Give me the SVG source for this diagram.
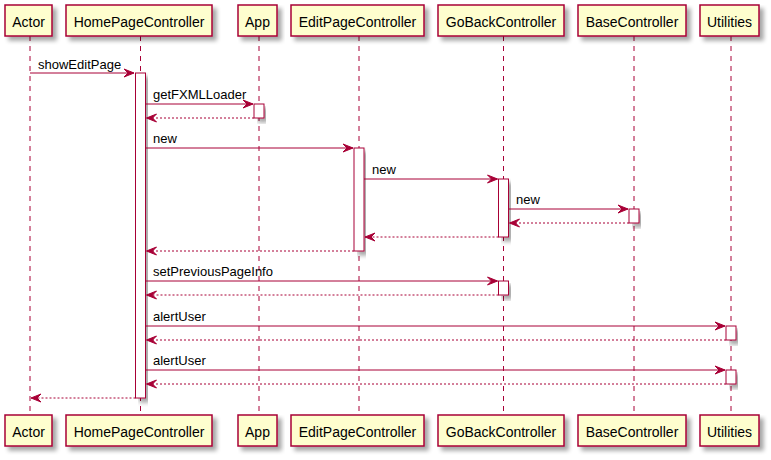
<svg xmlns="http://www.w3.org/2000/svg" width="771" height="460" viewBox="0 0 771 460">
<style>
.box{fill:#FEFECE;stroke:#A80036;stroke-width:1.5;filter:url(#sh)}
.act{fill:#FFFFFF;stroke:#A80036;stroke-width:1;filter:url(#sh)}
.life{stroke:#A80036;stroke-width:1;stroke-dasharray:5,5;fill:none}
.msg{stroke:#A80036;stroke-width:1;fill:none}
.ret{stroke:#A80036;stroke-width:1;stroke-dasharray:2,2;fill:none}
.head{fill:#A80036;stroke:#A80036;stroke-width:1}
.pt{font-family:"Liberation Sans",Arial,sans-serif;font-size:14px;fill:#000;text-anchor:middle}
.mt{font-family:"Liberation Sans",Arial,sans-serif;font-size:13px;fill:#000}
</style>
<defs>
<filter id="sh" x="-10%" y="-10%" width="130%" height="150%">
<feGaussianBlur in="SourceAlpha" stdDeviation="2" result="b"/>
<feOffset in="b" dx="4" dy="4" result="o"/>
<feComponentTransfer in="o" result="s"><feFuncA type="linear" slope="0.35"/></feComponentTransfer>
<feMerge><feMergeNode in="s"/><feMergeNode in="SourceGraphic"/></feMerge>
</filter>
</defs>
<rect width="771" height="460" fill="#FFFFFF"/>
<g id="lifelines">
<line class="life" x1="30" y1="36" x2="30" y2="415"/>
<line class="life" x1="140.5" y1="36" x2="140.5" y2="415"/>
<line class="life" x1="259" y1="36" x2="259" y2="415"/>
<line class="life" x1="359" y1="36" x2="359" y2="415"/>
<line class="life" x1="503.5" y1="36" x2="503.5" y2="415"/>
<line class="life" x1="634" y1="36" x2="634" y2="415"/>
<line class="life" x1="731" y1="36" x2="731" y2="415"/>
</g>
<g id="activations">
<rect class="act" x="135.5" y="73" width="10" height="325"/>
<rect class="act" x="254" y="104" width="10" height="14"/>
<rect class="act" x="354" y="148" width="10" height="103"/>
<rect class="act" x="498.5" y="179" width="10" height="58"/>
<rect class="act" x="629" y="209" width="10" height="14"/>
<rect class="act" x="498.5" y="281" width="10" height="14"/>
<rect class="act" x="726" y="326" width="10" height="14"/>
<rect class="act" x="726" y="370" width="10" height="14"/>
</g>
<g id="Actor">
<rect class="box" x="5" y="5" width="47" height="31"/>
<text class="pt" x="28.5" y="26.5">Actor</text>
<rect class="box" x="5" y="415" width="47" height="31"/>
<text class="pt" x="28.5" y="436.5">Actor</text>
</g>
<g id="HomePageController">
<rect class="box" x="66" y="5" width="146" height="31"/>
<text class="pt" x="139" y="26.5">HomePageController</text>
<rect class="box" x="66" y="415" width="146" height="31"/>
<text class="pt" x="139" y="436.5">HomePageController</text>
</g>
<g id="App">
<rect class="box" x="238" y="5" width="39" height="31"/>
<text class="pt" x="257.5" y="26.5">App</text>
<rect class="box" x="238" y="415" width="39" height="31"/>
<text class="pt" x="257.5" y="436.5">App</text>
</g>
<g id="EditPageController">
<rect class="box" x="291" y="5" width="133" height="31"/>
<text class="pt" x="357.5" y="26.5">EditPageController</text>
<rect class="box" x="291" y="415" width="133" height="31"/>
<text class="pt" x="357.5" y="436.5">EditPageController</text>
</g>
<g id="GoBackController">
<rect class="box" x="438" y="5" width="126" height="31"/>
<text class="pt" x="501" y="26.5">GoBackController</text>
<rect class="box" x="438" y="415" width="126" height="31"/>
<text class="pt" x="501" y="436.5">GoBackController</text>
</g>
<g id="BaseController">
<rect class="box" x="578" y="5" width="108" height="31"/>
<text class="pt" x="632" y="26.5">BaseController</text>
<rect class="box" x="578" y="415" width="108" height="31"/>
<text class="pt" x="632" y="436.5">BaseController</text>
</g>
<g id="Utilities">
<rect class="box" x="700" y="5" width="59" height="31"/>
<text class="pt" x="729.5" y="26.5">Utilities</text>
<rect class="box" x="700" y="415" width="59" height="31"/>
<text class="pt" x="729.5" y="436.5">Utilities</text>
</g>
<g id="connectors">
<line class="msg" x1="30" y1="73" x2="134" y2="73"/>
<polygon class="head" points="124,69 134,73 124,77 128,73"/>
<text class="mt" x="38" y="68.5">showEditPage</text>

<line class="msg" x1="145.5" y1="104" x2="253" y2="104"/>
<polygon class="head" points="243,100 253,104 243,108 247,104"/>
<text class="mt" x="153" y="98.5">getFXMLLoader</text>

<line class="ret" x1="254" y1="118" x2="146.5" y2="118"/>
<polygon class="head" points="156.5,114 146.5,118 156.5,122 152.5,118"/>

<line class="msg" x1="145.5" y1="148" x2="353" y2="148"/>
<polygon class="head" points="343,144 353,148 343,152 347,148"/>
<text class="mt" x="153" y="142.5">new</text>

<line class="msg" x1="364" y1="179" x2="497.5" y2="179"/>
<polygon class="head" points="487.5,175 497.5,179 487.5,183 491.5,179"/>
<text class="mt" x="372" y="173.5">new</text>

<line class="msg" x1="508.5" y1="209" x2="628" y2="209"/>
<polygon class="head" points="618,205 628,209 618,213 622,209"/>
<text class="mt" x="516" y="203.5">new</text>

<line class="ret" x1="629" y1="223" x2="509.5" y2="223"/>
<polygon class="head" points="519.5,219 509.5,223 519.5,227 515.5,223"/>

<line class="ret" x1="498.5" y1="237" x2="365" y2="237"/>
<polygon class="head" points="375,233 365,237 375,241 371,237"/>

<line class="ret" x1="354" y1="251" x2="146.5" y2="251"/>
<polygon class="head" points="156.5,247 146.5,251 156.5,255 152.5,251"/>

<line class="msg" x1="145.5" y1="281" x2="497.5" y2="281"/>
<polygon class="head" points="487.5,277 497.5,281 487.5,285 491.5,281"/>
<text class="mt" x="153" y="275.5">setPreviousPageInfo</text>

<line class="ret" x1="498.5" y1="295" x2="146.5" y2="295"/>
<polygon class="head" points="156.5,291 146.5,295 156.5,299 152.5,295"/>

<line class="msg" x1="145.5" y1="326" x2="725" y2="326"/>
<polygon class="head" points="715,322 725,326 715,330 719,326"/>
<text class="mt" x="153" y="320.5">alertUser</text>

<line class="ret" x1="726" y1="340" x2="146.5" y2="340"/>
<polygon class="head" points="156.5,336 146.5,340 156.5,344 152.5,340"/>

<line class="msg" x1="145.5" y1="370" x2="725" y2="370"/>
<polygon class="head" points="715,366 725,370 715,374 719,370"/>
<text class="mt" x="153" y="364.5">alertUser</text>

<line class="ret" x1="726" y1="384" x2="146.5" y2="384"/>
<polygon class="head" points="156.5,380 146.5,384 156.5,388 152.5,384"/>

<line class="ret" x1="135.5" y1="398" x2="31" y2="398"/>
<polygon class="head" points="41,394 31,398 41,402 37,398"/>
</g>
</svg>
